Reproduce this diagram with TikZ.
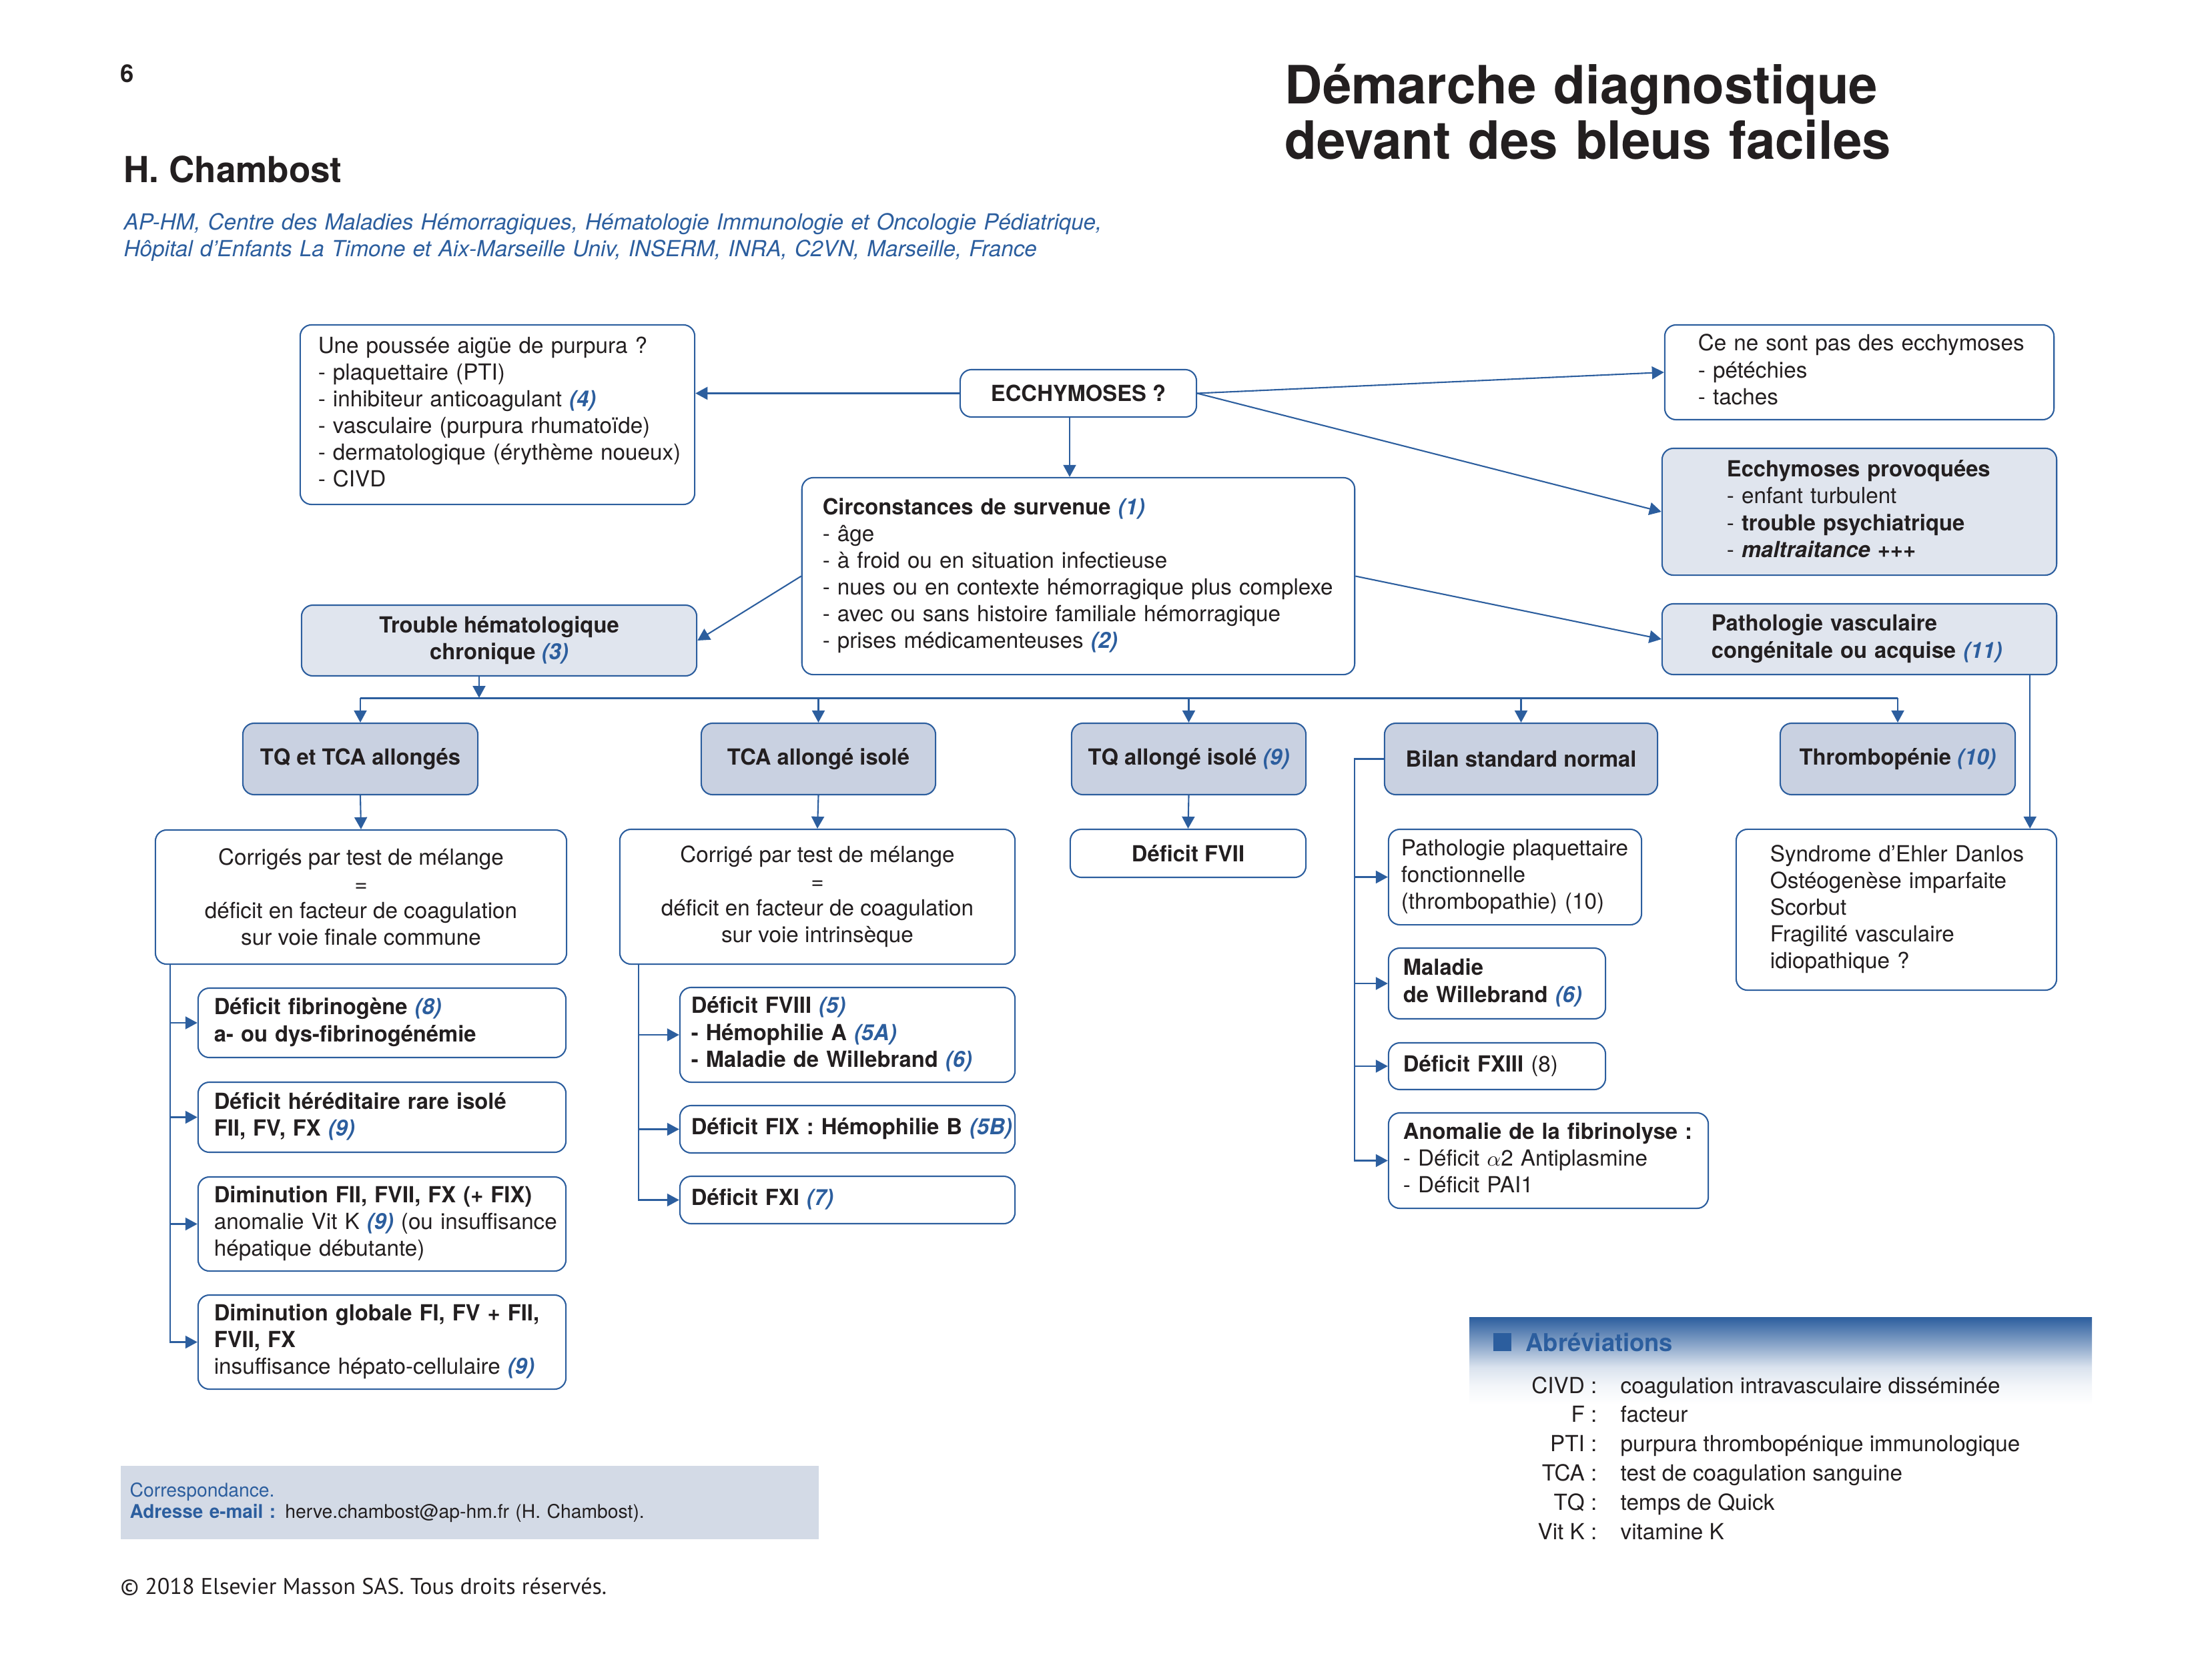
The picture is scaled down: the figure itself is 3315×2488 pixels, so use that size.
\documentclass[tikz,border=0pt]{standalone}
\usepackage{fontspec}
\setmainfont{TeX Gyre Heros}[BoldFeatures={FakeStretch=0.985}, BoldItalicFeatures={FakeStretch=0.985}]
\newfontfamily\ptsans{PT Sans}
\usetikzlibrary{arrows.meta}
\definecolor{bblue}{RGB}{44,94,158}
\definecolor{txt}{RGB}{35,31,32}
\definecolor{lightg}{RGB}{224,229,238}
\definecolor{midg}{RGB}{201,209,225}
\definecolor{corrg}{RGB}{211,218,230}
\pgfdeclareverticalshading{abshade}{100bp}{color(0bp)=(white); color(25bp)=(white); color(36bp)=(bblue!6); color(46.5bp)=(bblue!18); color(59bp)=(bblue!55); color(75bp)=(bblue); color(100bp)=(bblue)}
\newcommand\myfont{\fontsize{9.45}{11.4}\selectfont}
\newcommand\myref[1]{\textcolor{bblue}{\textbf{\textit{(#1)}}}}
\newcommand\mylines[1]{\begin{tabular}[t]{@{}l@{}}#1\end{tabular}}
\begin{document}
\begin{tikzpicture}[x=0.01cm,y=-0.01cm,
  every node/.style={text=txt},
  bx/.style={draw=bblue, line width=0.6pt, rounded corners=0.17cm, font=\myfont, inner sep=0pt},
  wb/.style={bx, fill=white},
  lg/.style={bx, fill=lightg},
  mg/.style={bx, fill=midg, font=\myfont\bfseries, minimum height=1.07cm},
  lb/.style={align=left, inner xsep=#1},
  arr/.style={draw=bblue, line width=0.6pt, -{Triangle[length=0.18cm,width=0.19cm]}},
  ln/.style={draw=bblue, line width=0.6pt},
  barline/.style={draw=bblue, line width=0.85pt}]
\useasboundingbox (0,0) rectangle (3315,2488);

% ---------- header ----------
\node[anchor=base west, inner sep=0pt, font=\fontsize{10.5}{12}\selectfont\bfseries] (pnum) at (180,124) {6};
\node[anchor=base west, inner sep=0pt, font=\fontsize{15.3}{18}\selectfont\bfseries] (auth) at (185,274) {H. Chambost};
\node[anchor=base west, inner sep=0pt, text width=17cm, align=left, font=\myfont\itshape, text=bblue] (affil) at (185,344)
  {AP-HM, Centre des Maladies Hémorragiques, Hématologie Immunologie et Oncologie Pédiatrique,\\Hôpital d’Enfants La Timone et Aix-Marseille Univ, INSERM, INRA, C2VN, Marseille, France};
\node[anchor=base west, inner sep=0pt, text width=10cm, align=left, font=\fontsize{22.5}{23.5}\selectfont\bfseries] (title) at (1925,156)
  {Démarche diagnostique\\devant des bleus faciles};

% ---------- top level ----------
\node[wb, lb=0.27cm, text width=5.37cm, minimum height=2.69cm] (boxA) at (745.5,621.5)
  {\mylines{Une poussée aigüe de purpura ?\\- plaquettaire (PTI)\\- inhibiteur anticoagulant \myref{4}\\- vasculaire (purpura rhumatoïde)\\- dermatologique (érythème noueux)\\- CIVD}};
\node[wb, align=center, minimum width=3.54cm, minimum height=0.71cm, font=\myfont\bfseries] (ecchy) at (1616,589.5) {ECCHYMOSES ?};
\node[wb, lb=0.31cm, text width=7.66cm, minimum height=2.95cm] (circ) at (1616,863.5)
  {\mylines{\textbf{Circonstances de survenue} \myref{1}\\- âge\\- à froid ou en situation infectieuse\\- nues ou en contexte hémorragique plus complexe\\- avec ou sans histoire familiale hémorragique\\- prises médicamenteuses \myref{2}}};
\node[wb, lb=0.50cm, text width=4.83cm, minimum height=1.42cm] (cene) at (2786.5,558)
  {\mylines{Ce ne sont pas des ecchymoses\\- pétéchies\\- taches}};
\node[lg, lb=0.97cm, text width=3.97cm, minimum height=1.90cm] (provo) at (2786.5,767)
  {\mylines{\textbf{Ecchymoses provoquées}\\- enfant turbulent\\- \textbf{trouble psychiatrique}\\- \textbf{\textit{maltraitance} +++}}};
\node[lg, lb=0.74cm, text width=4.43cm, minimum height=1.06cm] (patho) at (2786.5,958)
  {\mylines{\textbf{Pathologie vasculaire}\\\textbf{congénitale ou acquise} \myref{11}}};
\node[lg, align=center, minimum width=5.92cm, minimum height=1.06cm] (trouble) at (748,960)
  {\textbf{Trouble hématologique}\\\textbf{chronique} \myref{3}};

% ---------- row 2 ----------
\node[mg, minimum width=3.52cm] (tqtca) at (540,1137.5) {TQ et TCA allongés};
\node[mg, minimum width=3.51cm] (tca) at (1226.5,1137.5) {TCA allongé isolé};
\node[mg, minimum width=3.51cm] (tq) at (1781.5,1137.5) {TQ allongé isolé \myref{9}};
\node[mg, minimum width=4.09cm] (bilan) at (2279.5,1137.5) {Bilan standard normal};
\node[mg, minimum width=3.52cm] (thr) at (2844,1137.5) {Thrombopénie \myref{10}};

% ---------- row 3 ----------
\node[wb, align=center, minimum width=6.16cm, minimum height=2.01cm] (corr1) at (541,1344.5)
  {Corrigés par test de mélange\\=\\déficit en facteur de coagulation\\sur voie finale commune};
\node[wb, align=center, minimum width=5.92cm, minimum height=2.02cm] (corr2) at (1225,1344)
  {Corrigé par test de mélange\\=\\déficit en facteur de coagulation\\sur voie intrinsèque};
\node[wb, align=center, minimum width=3.53cm, minimum height=0.72cm, font=\myfont\bfseries] (fvii) at (1780.5,1279) {Déficit FVII};
\node[wb, lb=0.19cm, text width=3.41cm, minimum height=1.43cm] (pp) at (2270.5,1314.5)
  {\mylines{Pathologie plaquettaire\\fonctionnelle\\(thrombopathie) (10)}};
\node[wb, lb=0.22cm, text width=2.81cm, minimum height=1.06cm] (mw) at (2243.5,1474)
  {\mylines{\textbf{Maladie}\\\textbf{de Willebrand} \myref{6}}};
\node[wb, lb=0.22cm, text width=2.81cm, minimum height=0.70cm] (fxiii) at (2243.5,1598)
  {\mylines{\textbf{Déficit FXIII} (8)}};
\node[wb, lb=0.22cm, text width=4.35cm, minimum height=1.43cm] (anom) at (2320.5,1739.5)
  {\mylines{\textbf{Anomalie de la fibrinolyse :}\\- Déficit $\alpha$2 Antiplasmine\\- Déficit PAI1}};
\node[wb, lb=0.51cm, text width=3.78cm, minimum height=2.41cm] (syn) at (2842,1363.5)
  {\mylines{Syndrome d’Ehler Danlos\\Ostéogenèse imparfaite\\Scorbut\\Fragilité vasculaire\\idiopathique ?}};

% column 1 sub boxes
\node[wb, lb=0.24cm, text width=5.03cm, minimum height=1.04cm] (d1) at (572.5,1533)
  {\mylines{\textbf{Déficit fibrinogène} \myref{8}\\\textbf{a- ou dys-fibrinogénémie}}};
\node[wb, lb=0.24cm, text width=5.03cm, minimum height=1.05cm] (d2) at (572.5,1674.5)
  {\mylines{\textbf{Déficit héréditaire rare isolé}\\\textbf{FII, FV, FX} \myref{9}}};
\node[wb, lb=0.24cm, text width=5.03cm, minimum height=1.41cm] (d3) at (572.5,1834.5)
  {\mylines{\textbf{Diminution FII, FVII, FX (+ FIX)}\\anomalie Vit K \myref{9} (ou insuffisance\\hépatique débutante)}};
\node[wb, lb=0.24cm, text width=5.03cm, minimum height=1.41cm] (d4) at (572.5,2011.5)
  {\mylines{\textbf{Diminution globale FI, FV + FII,}\\\textbf{FVII, FX}\\insuffisance hépato-cellulaire \myref{9}}};

% column 2 sub boxes
\node[wb, lb=0.17cm, text width=4.68cm, minimum height=1.42cm] (fviii) at (1270,1551)
  {\mylines{\textbf{Déficit FVIII} \myref{5}\\\textbf{- Hémophilie A} \myref{5A}\\\textbf{- Maladie de Willebrand} \myref{6}}};
\node[wb, lb=0.17cm, text width=4.68cm, minimum height=0.71cm] (fix) at (1270,1692.5)
  {\mylines{\textbf{Déficit FIX : Hémophilie B} \myref{5B}}};
\node[wb, lb=0.17cm, text width=4.68cm, minimum height=0.71cm] (fxi) at (1270,1798.5)
  {\mylines{\textbf{Déficit FXI} \myref{7}}};

% ---------- connectors ----------
\draw[arr] (ecchy.west) -- (ecchy.west -| boxA.east);
\coordinate (ecs) at ([xshift=-0.13cm]ecchy.south);
\draw[arr] (ecs) -- (ecs |- circ.north);
\draw[arr] (ecchy.east) -- (cene.west);
\draw[arr] (ecchy.east) -- (provo.west);
\draw[arr] (circ.east) -- (patho.west);
\draw[arr] (circ.west) -- (trouble.east);

\coordinate (bary) at (0,1046);
\coordinate (trs) at ([xshift=-0.30cm]trouble.south);
\draw[arr] (trs) -- (trs |- bary);
\draw[barline] (tqtca.north |- bary) -- (thr.north |- bary);
\draw[arr] (tqtca.north |- bary) -- (tqtca.north);
\draw[arr] (tca.north |- bary) -- (tca.north);
\draw[arr] (tq.north |- bary) -- (tq.north);
\draw[arr] (bilan.north |- bary) -- (bilan.north);
\draw[arr] (thr.north |- bary) -- (thr.north);

\draw[arr] (tqtca.south) -- (corr1.north);
\draw[arr] (tca.south) -- (corr2.north);
\draw[arr] (tq.south) -- (fvii.north);

\coordinate (pvs) at ([xshift=-0.41cm]patho.south east);
\draw[arr] (pvs) -- (pvs |- syn.north);

\coordinate (t1) at (255,0);
\draw[arr] (t1 |- corr1.south) |- (d4.west);
\draw[arr] (t1 |- d1.west) -- (d1.west);
\draw[arr] (t1 |- d2.west) -- (d2.west);
\draw[arr] (t1 |- d3.west) -- (d3.west);

\coordinate (t2) at (957,0);
\draw[arr] (t2 |- corr2.south) |- (fxi.west);
\draw[arr] (t2 |- fviii.west) -- (fviii.west);
\draw[arr] (t2 |- fix.west) -- (fix.west);

\coordinate (t4) at (2030,0);
\draw[arr] (bilan.west) -- (t4 |- bilan.west) |- (anom.west);
\draw[arr] (t4 |- pp.west) -- (pp.west);
\draw[arr] (t4 |- mw.west) -- (mw.west);
\draw[arr] (t4 |- fxiii.west) -- (fxiii.west);

% ---------- abbreviations ----------
\shade[shading=abshade] (2202,1974) rectangle (3135,2105);
\fill[bblue] (2238,1998) rectangle (2265,2025);
\node[anchor=base west, inner sep=0pt, font=\fontsize{10.5}{12}\selectfont\bfseries, text=bblue] (abtitle) at (2286,2025) {Abréviations};
\node[anchor=base east, inner sep=0pt, font=\myfont] (ab1) at (2394,2088) {CIVD :};
\node[anchor=base west, inner sep=0pt, font=\myfont] (df1) at (2428,2088) {coagulation intravasculaire disséminée};
\node[anchor=base east, inner sep=0pt, font=\myfont] (ab2) at (2394,2131) {F :};
\node[anchor=base west, inner sep=0pt, font=\myfont] (df2) at (2428,2131) {facteur};
\node[anchor=base east, inner sep=0pt, font=\myfont] (ab3) at (2394,2175) {PTI :};
\node[anchor=base west, inner sep=0pt, font=\myfont] (df3) at (2428,2175) {purpura thrombopénique immunologique};
\node[anchor=base east, inner sep=0pt, font=\myfont] (ab4) at (2394,2219) {TCA :};
\node[anchor=base west, inner sep=0pt, font=\myfont] (df4) at (2428,2219) {test de coagulation sanguine};
\node[anchor=base east, inner sep=0pt, font=\myfont] (ab5) at (2394,2263) {TQ :};
\node[anchor=base west, inner sep=0pt, font=\myfont] (df5) at (2428,2263) {temps de Quick};
\node[anchor=base east, inner sep=0pt, font=\myfont] (ab6) at (2394,2307) {Vit K :};
\node[anchor=base west, inner sep=0pt, font=\myfont] (df6) at (2428,2307) {vitamine K};

% ---------- footer ----------
\node[fill=corrg, anchor=north west, text width=10.18cm, inner xsep=0.14cm, inner ysep=0pt, minimum height=1.10cm, align=left, font=\fontsize{8.05}{9.1}\selectfont] (corresp) at (180,2196)
  {\textcolor{bblue}{Correspondance.}\\\textcolor{bblue}{\textbf{Adresse e-mail :}} herve.chambost@ap-hm.fr (H. Chambost).};
\node[anchor=base west, inner sep=0pt, font=\ptsans\fontsize{9.7}{11}\selectfont] (copy) at (180,2389) {© 2018 Elsevier Masson SAS. Tous droits réservés.};
\end{tikzpicture}
\end{document}
